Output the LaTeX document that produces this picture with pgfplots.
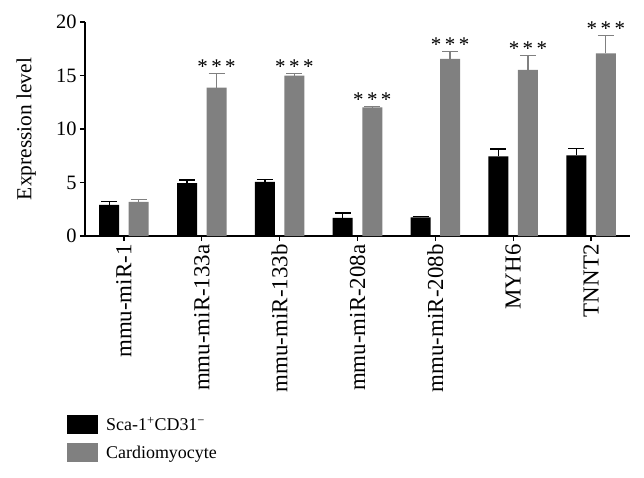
\documentclass[border=0pt]{standalone}
\usepackage{fontspec}
\setmainfont{Liberation Serif}
\usepackage{pgfplots}
\pgfplotsset{compat=1.18}
\usepackage{pgfplotstable}
\definecolor{bargray}{RGB}{128,128,128}
\newcommand{\fs}{\fontsize{21.5}{24}\selectfont}
\newcommand{\fx}{\fontsize{23}{26}\selectfont}
\newcommand{\fy}{\fontsize{20.5}{24}\selectfont}
\newcommand{\fl}{\fontsize{18}{21}\selectfont}

\pgfplotstableread{
x v e
0 2.90 0.30
1 4.95 0.28
2 5.07 0.22
3 1.69 0.47
4 1.75 0.10
5 7.45 0.69
6 7.54 0.66
}\sca
\pgfplotstableread{
x v e
0 3.20 0.20
1 13.87 1.33
2 15.00 0.18
3 12.02 0.06
4 16.55 0.70
5 15.52 1.35
6 17.06 1.65
}\cardio

\begin{document}
\begin{tikzpicture}
\begin{axis}[
  scale only axis, width=545bp, height=214bp,
  xmin=-0.5, xmax=6.5, ymin=0, ymax=20,
  axis lines=left,
  axis line style={-, line width=1.2pt, black},
  ytick={0,5,10,15,20},
  xtick={0,1,2,3,4,5,6},
  xticklabels={mmu-miR-1,mmu-miR-133a,mmu-miR-133b,mmu-miR-208a,mmu-miR-208b,MYH6,TNNT2},
  xticklabel style={rotate=90, anchor=east, font=\fx},
  yticklabel style={font=\fy},
  /pgf/number format/assume math mode=true,
  tick align=outside,
  major tick length=5bp,
  tick style={black, line width=1.2pt},
  label style={font=\fs},
  ylabel={Expression level},
  ylabel style={at={(axis description cs:-0.108,0.5)}, anchor=center},
  legend style={at={(axis description cs:-0.0385,-0.827)}, anchor=north west,
    draw=none, fill=none, font=\fl, row sep=9bp, legend cell align=left,
    /tikz/every odd column/.append style={column sep=6bp}},
  clip=false,
]
\addplot[ybar, bar width=20bp, bar shift=0pt, fill=black, draw=none,
  legend image code/.code={\fill[black] (0bp,-9.5bp) rectangle (31bp,9.5bp);},
  error bars/.cd, y dir=plus, y explicit,
  error bar style={draw=black, line width=1.3pt},
  error mark options={rotate=90, mark size=8bp, line width=1.3pt, draw=black}]
  table[x expr=\thisrow{x}-0.1895, y=v, y error=e]{\sca};
\addlegendentry{Sca-1\textsuperscript{+}CD31\textsuperscript{−}}
\addplot[ybar, bar width=20bp, bar shift=0pt, fill=bargray, draw=none,
  legend image code/.code={\fill[bargray] (0bp,-9.5bp) rectangle (31bp,9.5bp);},
  error bars/.cd, y dir=plus, y explicit,
  error bar style={draw=bargray, line width=1.3pt},
  error mark options={rotate=90, mark size=8bp, line width=1.3pt, draw=bargray}]
  table[x expr=\thisrow{x}+0.1895, y=v, y error=e]{\cardio};
\addlegendentry{Cardiomyocyte}
\addplot[draw=none, mark=none, forget plot,
  nodes near coords={*\,*\,*}, nodes near coords align={above},
  every node near coord/.append style={font=\fontsize{21}{22}\selectfont, inner sep=0pt, yshift=0bp}]
  table[x expr=\thisrow{x}+0.1895, y expr=\thisrow{v}+\thisrow{e}, skip coords between index={0}{1}]{\cardio};
\end{axis}
\path (-85bp,-242bp) rectangle (559bp,236bp);
\end{tikzpicture}
\end{document}
